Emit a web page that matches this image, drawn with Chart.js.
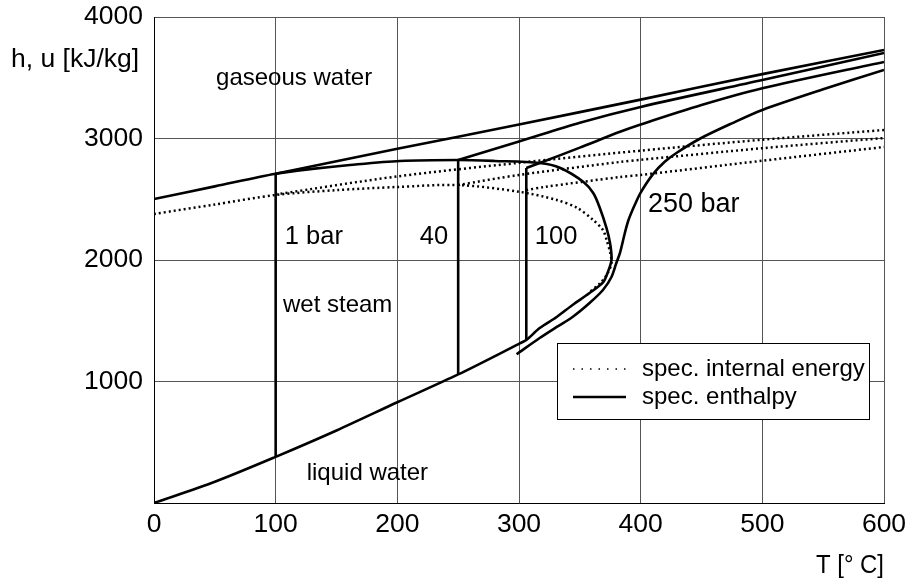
<!DOCTYPE html>
<html>
<head>
<meta charset="utf-8">
<script src="https://cdn.jsdelivr.net/npm/chart.js"></script>
<style>
html, body { margin: 0; padding: 0; background: #fff; }
</style>
</head>
<body>
<canvas id="chart" width="917" height="583"></canvas>
<script>
// Data (T in °C, h/u in kJ/kg)
const xTicks = [0, 100, 200, 300, 400, 500, 600];
const yTicks = [1000, 2000, 3000, 4000];

// saturation line, enthalpy (liquid -> critical point -> vapour)
const satT = [0, 50, 100, 150, 200, 250, 300, 306, 317, 331, 344, 358, 369, 373, 376, 375, 372, 366, 361, 353, 334, 317, 280, 250, 202, 161, 130, 100, 50, 0];
const satH = [0, 175, 380, 597, 829, 1058, 1310, 1341, 1440, 1531, 1630, 1728, 1815, 1900, 2000, 2130, 2260, 2440, 2551, 2642, 2757, 2798, 2815, 2823, 2815, 2782, 2750, 2710, 2606, 2502];

// saturation line, internal energy
const uSatT = [0, 50, 100, 150, 200, 250, 300, 331, 348, 361, 369, 372, 375, 376, 373, 367, 358];
const uSatU = [2379, 2457, 2535, 2575, 2601, 2617, 2562, 2494, 2428, 2329, 2247, 2165, 2058, 1975, 1893, 1811, 1737];

// isobars, enthalpy
const wetT1 = [100, 100];     const wetH1 = [380, 2710];
const wetT40 = [250, 250];    const wetH40 = [1058, 2823];
const wetT100 = [306, 306];   const wetH100 = [1341, 2757];

const bar1T = [100, 200, 300, 400, 500, 600];
const bar1H = [2710, 2915, 3115, 3320, 3530, 3728];
const bar40T = [250, 300, 350, 400, 500, 600];
const bar40H = [2823, 2975, 3130, 3260, 3481, 3704];
const bar100T = [306, 317, 350, 383, 400, 450, 500, 600];
const bar100H = [2757, 2798, 2925, 3055, 3115, 3275, 3413, 3630];
const bar250T = [298, 317, 331, 344, 358, 369, 376, 380, 383, 387, 390, 395, 400, 410, 420, 430, 449, 475, 500, 550, 600];
const bar250H = [1224, 1358, 1449, 1531, 1646, 1753, 1860, 1975, 2058, 2222, 2329, 2450, 2555, 2705, 2810, 2885, 3000, 3125, 3235, 3405, 3564];

// isobars, internal energy
const u1T = [100, 200, 300, 400, 500, 600];
const u1U = [2540, 2688, 2800, 2900, 2990, 3070];
const u40T = [250, 300, 383, 400, 500, 600];
const u40U = [2617, 2700, 2807, 2825, 2920, 3004];
const u100T = [306, 320, 383, 400, 500, 600];
const u100U = [2575, 2600, 2683, 2700, 2817, 2930];

// Text
const legendLabels = ["spec. internal energy", "spec. enthalpy"];
const regionTexts = ["gaseous water", "1 bar", "40", "100", "250 bar", "wet steam", "liquid water"];
const regionAnchors = [[51, 3498], [107.5, 2189], [218.5, 2189], [313, 2189], [406, 2453], [106, 1630], [125.5, 247]];
const regionSizes = [24, 25.5, 25.5, 25.5, 27, 24, 24];

// Helpers
const toPoints = (xs, ys) => xs.map((x, i) => ({x: x, y: ys[i]}));
const FONT = '"Liberation Sans", Arial, sans-serif';

const solid = (xs, ys, tension) => ({
    data: toPoints(xs, ys),
    borderColor: "#000",
    borderWidth: 2.6,
    tension: tension,
    pointRadius: 0,
    fill: false
});
const dotted = (xs, ys, tension) => ({
    data: toPoints(xs, ys),
    borderColor: "#000",
    borderWidth: 2.5,
    borderDash: [2, 3],
    tension: tension,
    pointRadius: 0,
    fill: false
});

const textPlugin = {
    id: "texts",
    afterDraw(chart) {
        const ctx = chart.ctx;
        const xs = chart.scales.x, ys = chart.scales.y;
        ctx.save();
        ctx.fillStyle = "#000";
        ctx.textBaseline = "middle";
        ctx.textAlign = "left";
        regionTexts.forEach((t, i) => {
            ctx.font = regionSizes[i] + "px " + FONT;
            ctx.fillText(t, xs.getPixelForValue(regionAnchors[i][0]), ys.getPixelForValue(regionAnchors[i][1]));
        });

        // axis titles
        ctx.font = "26.5px " + FONT;
        ctx.fillText("h, u [kJ/kg]", 11, 60);
        ctx.textAlign = "right";
        ctx.fillText("T [° C]", 884, 566, 68);

        // legend
        const lx = 557.5, ly = 343.5, lw = 312, lh = 76;
        ctx.fillStyle = "#fff";
        ctx.fillRect(lx, ly, lw, lh);
        ctx.strokeStyle = "#000";
        ctx.lineWidth = 1;
        ctx.strokeRect(lx, ly, lw, lh);

        ctx.lineWidth = 1.5;
        ctx.setLineDash([1.5, 7]);
        ctx.beginPath();
        ctx.moveTo(573, 369);
        ctx.lineTo(627, 369);
        ctx.stroke();
        ctx.setLineDash([]);
        ctx.lineWidth = 2.6;
        ctx.beginPath();
        ctx.moveTo(573, 397);
        ctx.lineTo(626, 397);
        ctx.stroke();

        ctx.fillStyle = "#000";
        ctx.textAlign = "left";
        ctx.font = "24px " + FONT;
        ctx.fillText(legendLabels[0], 642, 369);
        ctx.fillText(legendLabels[1], 642, 397);
        ctx.restore();
    }
};

new Chart(document.getElementById("chart"), {
    type: "line",
    data: {
        datasets: [
            dotted(uSatT, uSatU, 0.3),
            dotted(u1T, u1U, 0.3),
            dotted(u40T, u40U, 0.3),
            dotted(u100T, u100U, 0.3),
            solid(satT, satH, 0.3),
            solid(wetT1, wetH1, 0),
            solid(wetT40, wetH40, 0),
            solid(wetT100, wetH100, 0),
            solid(bar1T, bar1H, 0.3),
            solid(bar40T, bar40H, 0.3),
            solid(bar100T, bar100H, 0.3),
            solid(bar250T, bar250H, 0.3)
        ]
    },
    options: {
        responsive: false,
        animation: false,
        devicePixelRatio: 1,
        layout: {padding: {top: 17, right: 33, left: 0, bottom: 0}},
        plugins: {legend: {display: false}, tooltip: {enabled: false}},
        scales: {
            x: {
                type: "linear",
                min: 0,
                max: 600,
                afterFit: (s) => { s.height = 80; },
                afterBuildTicks: (s) => { s.ticks = xTicks.map(v => ({value: v})); },
                ticks: {color: "#000", font: {size: 26.5, family: FONT}, padding: 6, maxRotation: 0},
                grid: {color: "#555", lineWidth: 1, drawTicks: false},
                border: {color: "#000", width: 1}
            },
            y: {
                type: "linear",
                min: 0,
                max: 4000,
                afterFit: (s) => { s.width = 154; s.paddingTop = 0; s.paddingBottom = 0; },
                afterBuildTicks: (s) => { s.ticks = [0].concat(yTicks).map(v => ({value: v})); },
                ticks: {
                    color: "#000",
                    font: {size: 26.5, family: FONT},
                    padding: 11,
                    callback: (v) => v === 0 ? "" : String(v)
                },
                grid: {color: "#555", lineWidth: 1, drawTicks: false},
                border: {color: "#000", width: 1}
            }
        }
    },
    plugins: [textPlugin]
});
</script>
</body>
</html>
